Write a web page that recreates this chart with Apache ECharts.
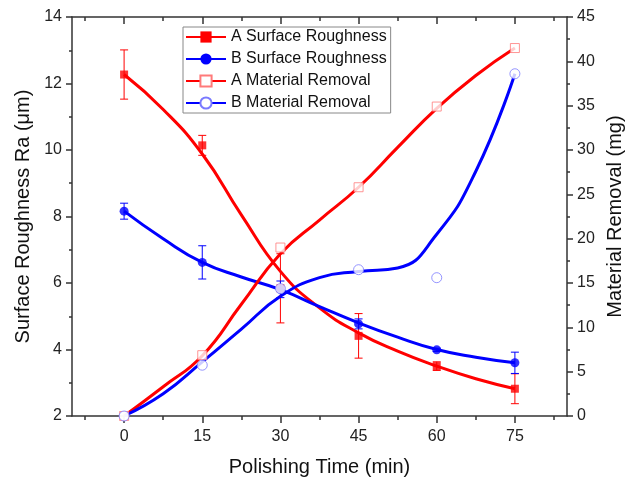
<!DOCTYPE html>
<html>
<head>
<meta charset="utf-8">
<script src="https://cdn.jsdelivr.net/npm/echarts@6/dist/echarts.min.js"></script>
<style>
  html, body { margin: 0; padding: 0; background: #fff; }
  #chart { width: 625px; height: 479px; }
</style>
</head>
<body>
<div id="chart"></div>
<script>
// Measured polishing times (min)
const times = [0, 15, 30, 45, 60, 75];

// Surface roughness Ra (µm) with standard deviation
const aRoughness = [12.27, 10.14, 5.84, 4.41, 3.5, 2.82];
const aRoughnessErr = [0.74, 0.3, 1.04, 0.67, 0.13, 0.45];
const bRoughness = [8.16, 6.62, 5.81, 4.77, 3.99, 3.6];
const bRoughnessErr = [0.24, 0.5, 0.25, 0.15, 0.05, 0.32];

// Cumulative material removal (mg)
const aRemoval = [0, 6.86, 19.0, 25.8, 34.9, 41.5];
const bRemoval = [0, 5.73, 14.36, 16.5, 15.6, 38.6];

// Spline trend lines, sampled every 7.5 min
const fitTimes = [0, 7.5, 15, 22.5, 30, 37.5, 45, 52.5, 60, 67.5, 75];
const aRoughnessFit = [12.27, 11.22, 9.88, 8.05, 6.35, 5.25, 4.5, 3.95, 3.5, 3.12, 2.82];
const bRoughnessFit = [8.16, 7.33, 6.62, 6.18, 5.8, 5.29, 4.8, 4.37, 4.0, 3.77, 3.6];
const aRemovalFit = [0, 3.3, 6.8, 12.6, 18.3, 22.1, 25.8, 30.3, 34.7, 38.4, 41.5];
const bRemovalFit = [0, 2.5, 6.1, 9.8, 13.5, 15.6, 16.3, 16.7, 20.5, 27.6, 38.6];

// Axis tick positions
const xMajorTicks = [0, 15, 30, 45, 60, 75];
const xMinorTicks = [-7.5, 7.5, 22.5, 37.5, 52.5, 67.5, 82.5];

const names = ['A Surface Roughness', 'B Surface Roughness', 'A Material Removal', 'B Material Removal'];

const RED = '#ff0000';
const BLUE = '#0000ff';
const FONT = '"Liberation Sans", Arial, sans-serif';
const AXIS_COLOR = '#333';
const TICK_STYLE = { color: AXIS_COLOR, width: 1.5 };

const zip = (xs, ys) => xs.map((x, i) => [x, ys[i]]);

function errorBars(color) {
  return function (params, api) {
    const x = api.value(0);
    const lo = api.coord([x, api.value(1) - api.value(2)]);
    const hi = api.coord([x, api.value(1) + api.value(2)]);
    const half = 4;
    const style = { stroke: color, lineWidth: 1 };
    return {
      type: 'group',
      children: [
        { type: 'line', shape: { x1: lo[0], y1: lo[1], x2: hi[0], y2: hi[1] }, style },
        { type: 'line', shape: { x1: lo[0] - half, y1: lo[1], x2: lo[0] + half, y2: lo[1] }, style },
        { type: 'line', shape: { x1: hi[0] - half, y1: hi[1], x2: hi[0] + half, y2: hi[1] }, style }
      ]
    };
  };
}

const baseX = {
  type: 'value', min: -10, max: 85,
  splitLine: { show: false },
  axisLine: { show: false, onZero: false },
  axisLabel: { show: false },
  axisTick: { show: false }
};

const option = {
  backgroundColor: '#fff',
  animation: false,
  textStyle: { fontFamily: FONT },
  grid: { left: 72, right: 58, top: 17, bottom: 63, containLabel: false, outerBoundsMode: 'none' },
  legend: {
    data: names,
    orient: 'vertical',
    left: 183, top: 27,
    itemWidth: 40, itemHeight: 14, itemGap: 6,
    padding: [2, 4, 2, 2],
    borderColor: '#888', borderWidth: 1,
    backgroundColor: '#fff',
    textStyle: { fontFamily: FONT, fontSize: 16, color: '#111' }
  },
  xAxis: [
    {
      type: 'value', position: 'bottom', min: -10, max: 85,
      name: 'Polishing Time (min)', nameLocation: 'middle', nameGap: 41,
      nameTextStyle: { fontFamily: FONT, fontSize: 20, color: '#111' },
      splitLine: { show: false },
      axisLine: { onZero: false, lineStyle: TICK_STYLE },
      axisTick: { customValues: xMajorTicks, length: 7, lineStyle: TICK_STYLE },
      axisLabel: { customValues: xMajorTicks, margin: 13, fontSize: 16, color: '#222', fontFamily: FONT }
    },
    Object.assign({}, baseX, {
      position: 'bottom',
      axisTick: { show: true, customValues: xMinorTicks, length: 4, lineStyle: TICK_STYLE }
    }),
    Object.assign({}, baseX, {
      position: 'top',
      axisLine: { show: true, onZero: false, lineStyle: TICK_STYLE },
      axisTick: { show: true, inside: true, customValues: xMajorTicks, length: 7, lineStyle: TICK_STYLE }
    }),
    Object.assign({}, baseX, {
      position: 'top',
      axisTick: { show: true, inside: true, customValues: xMinorTicks, length: 4, lineStyle: TICK_STYLE }
    })
  ],
  yAxis: [
    {
      type: 'value', position: 'left', min: 2, max: 14, interval: 2,
      name: 'Surface Roughness Ra (\u03bcm)', nameLocation: 'middle', nameGap: 38, nameRotate: 90,
      nameTextStyle: { fontFamily: FONT, fontSize: 20, color: '#111' },
      splitLine: { show: false },
      axisLine: { show: true, onZero: false, lineStyle: TICK_STYLE },
      axisTick: { length: 6, lineStyle: TICK_STYLE },
      minorTick: { show: true, splitNumber: 2, length: 3, lineStyle: TICK_STYLE },
      axisLabel: { margin: 10, fontSize: 16, color: '#222', fontFamily: FONT }
    },
    {
      type: 'value', position: 'right', min: 0, max: 45, interval: 5,
      name: 'Material Removal (mg)', nameLocation: 'middle', nameGap: 36, nameRotate: 90,
      nameTextStyle: { fontFamily: FONT, fontSize: 20, color: '#111' },
      splitLine: { show: false },
      axisLine: { show: true, onZero: false, lineStyle: TICK_STYLE },
      axisTick: { length: 6, lineStyle: TICK_STYLE },
      minorTick: { show: true, splitNumber: 2, length: 3, lineStyle: TICK_STYLE },
      axisLabel: { margin: 10, fontSize: 16, color: '#222', fontFamily: FONT }
    }
  ],
  series: [
    // trend curves (also carry the legend icons)
    {
      name: names[0], type: 'line', yAxisIndex: 0, smooth: 0.5, showSymbol: false,
      symbol: 'rect', symbolSize: 8, z: 2,
      itemStyle: { color: RED }, lineStyle: { color: RED, width: 3 },
      data: zip(fitTimes, aRoughnessFit)
    },
    {
      name: names[1], type: 'line', yAxisIndex: 0, smooth: 0.5, showSymbol: false,
      symbol: 'circle', symbolSize: 9, z: 2,
      itemStyle: { color: BLUE }, lineStyle: { color: BLUE, width: 3 },
      data: zip(fitTimes, bRoughnessFit)
    },
    {
      name: names[2], type: 'line', yAxisIndex: 1, smooth: 0.5, showSymbol: false,
      symbol: 'rect', symbolSize: 9, z: 2,
      itemStyle: { color: '#fff', borderColor: '#ff7a7a', borderWidth: 1 }, lineStyle: { color: RED, width: 3 },
      data: zip(fitTimes, aRemovalFit)
    },
    {
      name: names[3], type: 'line', yAxisIndex: 1, smooth: 0.5, showSymbol: false,
      symbol: 'circle', symbolSize: 10, z: 2,
      itemStyle: { color: '#fff', borderColor: '#7a7aff', borderWidth: 1 }, lineStyle: { color: BLUE, width: 3 },
      data: zip(fitTimes, bRemovalFit)
    },
    // error bars
    {
      name: 'A err', type: 'custom', yAxisIndex: 0, z: 3,
      renderItem: errorBars(RED),
      data: times.map((t, i) => [t, aRoughness[i], aRoughnessErr[i]])
    },
    {
      name: 'B err', type: 'custom', yAxisIndex: 0, z: 3,
      renderItem: errorBars(BLUE),
      data: times.map((t, i) => [t, bRoughness[i], bRoughnessErr[i]])
    },
    // measured points
    {
      name: 'A Ra pts', type: 'scatter', yAxisIndex: 0, z: 4,
      symbol: 'rect', symbolSize: 8, itemStyle: { color: RED },
      data: zip(times, aRoughness)
    },
    {
      name: 'B Ra pts', type: 'scatter', yAxisIndex: 0, z: 5,
      symbol: 'circle', symbolSize: 9, itemStyle: { color: BLUE },
      data: zip(times, bRoughness)
    },
    {
      name: 'A MR pts', type: 'scatter', yAxisIndex: 1, z: 6,
      symbol: 'rect', symbolSize: 9,
      itemStyle: { color: '#fff', borderColor: '#ff7a7a', borderWidth: 1 },
      data: zip(times, aRemoval)
    },
    {
      name: 'B MR pts', type: 'scatter', yAxisIndex: 1, z: 7,
      symbol: 'circle', symbolSize: 10,
      itemStyle: { color: '#fff', borderColor: '#7a7aff', borderWidth: 1 },
      data: zip(times, bRemoval)
    }
  ]
};

const chart = echarts.init(document.getElementById('chart'), null, { renderer: 'canvas' });
chart.setOption(option);
</script>
</body>
</html>
